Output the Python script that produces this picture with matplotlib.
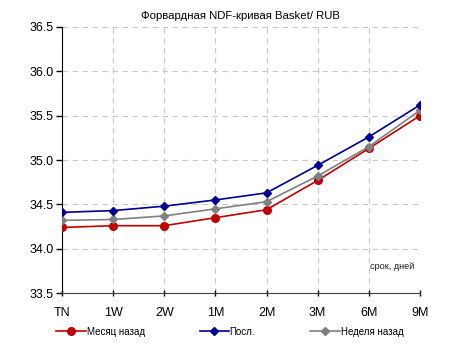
import matplotlib
matplotlib.use("Agg")
import matplotlib.pyplot as plt

plt.rcParams['font.family'] = ['Liberation Sans', 'DejaVu Sans']

# Data
tenors = ["TN", "1W", "2W", "1M", "2M", "3M", "6M", "9M"]
month_ago = [34.24, 34.26, 34.26, 34.35, 34.44, 34.77, 35.13, 35.50]
latest = [34.41, 34.43, 34.48, 34.55, 34.63, 34.94, 35.26, 35.62]
week_ago = [34.32, 34.33, 34.37, 34.45, 34.53, 34.82, 35.15, 35.56]
y_ticks = [33.5, 34.0, 34.5, 35.0, 35.5, 36.0, 36.5]

fig = plt.figure(figsize=(4.62, 3.49), dpi=100)
ax = fig.add_axes([0.134, 0.160, 0.775, 0.763])

x = list(range(len(tenors)))
l1, = ax.plot(x, month_ago, color="#C00000", lw=1.2, marker="o", ms=5.5, label="Месяц назад", zorder=3)
l2, = ax.plot(x, latest, color="#000090", lw=1.2, marker="D", ms=4.3, label="Посл.", zorder=4)
l3, = ax.plot(x, week_ago, color="#808080", lw=1.2, marker="D", ms=4.3, label="Неделя назад", zorder=3)

ax.set_xlim(0, len(tenors) - 1)
ax.set_ylim(33.5, 36.5)
ax.set_xticks(x)
ax.set_xticklabels(tenors)
ax.set_yticks(y_ticks)
ax.set_yticklabels([f"{v:.1f}" for v in y_ticks])
ax.tick_params(axis="both", labelsize=9, length=4, width=1)
ax.tick_params(axis="x", direction="inout", pad=8)
ax.tick_params(axis="y", direction="out", pad=2)

ax.grid(True, color="#C8C8C8", linestyle=(0, (5, 4)), linewidth=0.8)
ax.set_axisbelow(True)
for side in ["top", "right"]:
    ax.spines[side].set_visible(False)
ax.spines["left"].set_color("black")
ax.spines["bottom"].set_color("#404040")

ax.set_title("Форвардная NDF-кривая Basket/ RUB", fontsize=8.2, pad=6)
ax.text(0.985, 0.10, "срок, дней", transform=ax.transAxes, fontsize=6.6,
        ha="right", va="center", color="#202020")

# three legend entries placed at their own positions
for line, xpos in [(l1, 0.122), (l2, 0.432), (l3, 0.672)]:
    fig.legend(handles=[line], loc="center left", bbox_to_anchor=(xpos, 0.049),
               frameon=False, fontsize=7, handlelength=3, handletextpad=0.1,
               borderaxespad=0, borderpad=0)

fig.savefig("out.png", dpi=100)
